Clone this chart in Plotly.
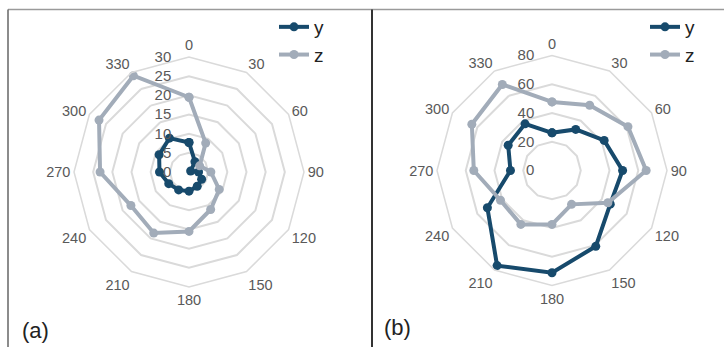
import plotly.graph_objects as go

# Angle categories (degrees) shared by both radar panels
theta = ["0", "30", "60", "90", "120", "150", "180", "210", "240", "270", "300", "330"]

# Panel (a)
a_y = [7.7, 3.1, 0.5, 2.5, 3.8, 4.3, 5.0, 5.4, 6.1, 7.7, 9.0, 10.2]
a_z = [19.5, 8.7, 3.2, 5.7, 9.1, 11.3, 15.5, 18.4, 17.5, 23.2, 27.1, 29.0]
a_ticks = [0, 5, 10, 15, 20, 25, 30]

# Panel (b)
b_y = [26.2, 33.0, 41.9, 49.1, 46.8, 60.9, 71.1, 76.4, 51.9, 28.9, 35.2, 37.5]
b_z = [47.7, 52.4, 61.0, 65.5, 44.9, 27.2, 37.5, 43.3, 41.4, 54.4, 64.4, 69.1]
b_ticks = [0, 20, 40, 60, 80]

DARK = "#174a6c"
GRAY = "#a2acb9"
GRID = "#dadada"
TXT = "#595959"
FONT = "Arial, Liberation Sans, sans-serif"


def closed(v):
    return list(v) + [v[0]]


fig = go.Figure()

for name, vals, col, pol, leg in [
    ("y", a_y, DARK, "polar", "legend"),
    ("z", a_z, GRAY, "polar", "legend"),
    ("y", b_y, DARK, "polar2", "legend2"),
    ("z", b_z, GRAY, "polar2", "legend2"),
]:
    fig.add_trace(go.Scatterpolar(
        r=closed(vals), theta=closed(theta), mode="lines+markers", name=name,
        line=dict(color=col, width=4), marker=dict(color=col, size=9),
        subplot=pol, legend=leg,
    ))


def polar_layout(ticks, dom_x, dom_y):
    return dict(
        domain=dict(x=dom_x, y=dom_y),
        gridshape="linear",
        bgcolor="white",
        angularaxis=dict(
            type="category", categoryarray=theta,
            rotation=90, direction="clockwise",
            showgrid=False, showline=True, linecolor=GRID, linewidth=1.5,
            ticks="", tickfont=dict(size=14.5, color=TXT, family=FONT),
        ),
        radialaxis=dict(
            range=[ticks[0], ticks[-1]], tickvals=ticks,
            angle=90, side="counterclockwise", showline=False, tickangle=90,
            gridcolor=GRID, gridwidth=1.5,
            ticks="outside", ticklen=12, tickcolor="rgba(0,0,0,0)",
            tickfont=dict(size=15, color=TXT, family=FONT),
        ),
    )


W, H = 724, 347
fig.update_layout(
    width=W, height=H,
    margin=dict(l=0, r=0, t=0, b=0),
    paper_bgcolor="white",
    font=dict(family=FONT),
    polar=polar_layout(a_ticks, [74 / W, 304 / W], [1 - 287 / H, 1 - 57 / H]),
    polar2=polar_layout(b_ticks, [437 / W, 667 / W], [1 - 285.5 / H, 1 - 55.5 / H]),
    legend=dict(x=274 / W, y=1 - 8 / H, xanchor="left", yanchor="top",
                font=dict(size=19, color="#222"), bgcolor="rgba(0,0,0,0)"),
    legend2=dict(x=645 / W, y=1 - 8 / H, xanchor="left", yanchor="top",
                 font=dict(size=19, color="#222"), bgcolor="rgba(0,0,0,0)"),
    shapes=[
        dict(type="line", xref="paper", yref="paper", x0=8 / W, x1=1,
             y0=1 - 9.5 / H, y1=1 - 9.5 / H, line=dict(color="#9a9a9a", width=1.5)),
        dict(type="line", xref="paper", yref="paper", x0=8 / W, x1=8 / W,
             y0=0, y1=1 - 9.5 / H, line=dict(color="#666666", width=1.5)),
        dict(type="line", xref="paper", yref="paper", x0=372 / W, x1=372 / W,
             y0=0, y1=1 - 9.5 / H, line=dict(color="#333333", width=2)),
    ],
    annotations=[
        dict(text="(a)", x=20 / W, y=1 - 330 / H, xref="paper", yref="paper",
             xanchor="left", yanchor="middle", showarrow=False,
             font=dict(size=22, color="#222", family=FONT)),
        dict(text="(b)", x=382 / W, y=1 - 327 / H, xref="paper", yref="paper",
             xanchor="left", yanchor="middle", showarrow=False,
             font=dict(size=22, color="#222", family=FONT)),
    ],
)

fig.write_html("out.html")
